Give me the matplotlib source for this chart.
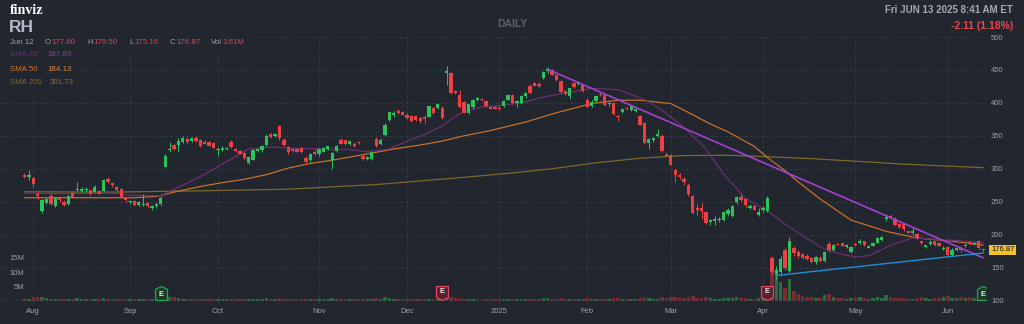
import numpy as np
import pandas as pd
import matplotlib
matplotlib.use("Agg")
import matplotlib.pyplot as plt
import matplotlib.transforms as mtransforms
from matplotlib.path import Path
from matplotlib.patches import Rectangle

plt.rcParams['font.family'] = ['Liberation Sans', 'DejaVu Sans']

# trading calendar
holidays = ['2024-09-02', '2024-11-28', '2024-12-25', '2025-01-01', '2025-01-09',
            '2025-01-20', '2025-02-17', '2025-04-18', '2025-05-26']
dates = pd.bdate_range('2024-07-30', '2025-06-12', freq='C', holidays=holidays)

opens = [291, 288, 286, 262, 236, 248, 259, 243, 256, 250,
         247, 263, 268, 266, 268, 267, 265, 266, 266, 285,
         278, 272, 270, 255, 249, 251, 245, 245, 248, 240,
         244, 246, 303, 329, 336, 336, 341, 345, 342, 347,
         343, 341, 340, 339, 328, 329, 330, 341, 330, 327,
         324, 309, 314, 327, 328, 336, 352, 350, 365, 344,
         333, 330, 330, 331, 317, 313, 326, 322, 326, 330,
         313, 327, 343, 343, 337, 338, 341, 319, 315, 315,
         345, 337, 351, 374, 381, 388, 386, 382, 380, 380,
         377, 378, 379, 392, 392, 392, 446, 445, 418, 412,
         401, 385, 393, 405, 406, 403, 393, 393, 392, 395,
         405, 412, 400, 400, 410, 426, 430, 428, 438, 448,
         450, 442, 433, 418, 411, 430, 428, 427, 405, 396,
         403, 413, 412, 398, 400, 380, 386, 392, 389, 388,
         380, 370, 339, 343, 349, 350, 322, 321, 298, 291,
         285, 276, 259, 240, 240, 235, 219, 221, 222, 222,
         231, 229, 249, 257, 254, 241, 243, 230, 237, 236,
         165, 140, 143, 176, 145, 180, 174, 170, 168, 165,
         158, 165, 160, 186, 177, 186, 187, 181, 174, 186,
         187, 190, 180, 183, 188, 192, 223, 229, 224, 216,
         216, 205, 202, 201, 190, 181, 186, 190, 188, 178,
         181, 169, 177, 180, 182, 189, 186, 190, 177.60]
highs = [293, 298, 287, 265, 254, 256, 263, 257, 258, 252,
         260, 266, 280, 273, 272, 269, 275, 268, 285, 287,
         279, 274, 271, 256, 253, 252, 251, 262, 249, 245,
         248, 258, 322, 341, 337, 346, 349, 348, 348, 349,
         345, 343, 342, 340, 333, 334, 333, 343, 332, 329,
         325, 319, 330, 331, 336, 352, 354, 354, 367, 346,
         335, 332, 332, 333, 319, 324, 328, 332, 333, 335,
         325, 336, 347, 344, 344, 340, 342, 321, 320, 327,
         348, 346, 369, 388, 387, 390, 388, 385, 382, 382,
         379, 381, 396, 394, 400, 395, 456, 447, 420, 420,
         403, 400, 406, 409, 407, 405, 395, 395, 395, 405,
         413, 414, 404, 412, 417, 428, 432, 432, 448, 455,
         452, 444, 434, 419, 423, 432, 433, 429, 407, 404,
         411, 415, 414, 401, 401, 381, 392, 393, 397, 392,
         382, 371, 346, 348, 360, 352, 324, 323, 300, 293,
         287, 278, 260, 247, 248, 236, 224, 229, 226, 236,
         240, 245, 258, 261, 255, 246, 245, 240, 244, 258,
         168, 152, 168, 180, 197, 182, 176, 172, 170, 166,
         168, 167, 175, 190, 186, 188, 188, 186, 183, 188,
         194, 191, 184, 189, 196, 198, 231, 232, 226, 218,
         218, 206, 211, 202, 191, 185, 192, 191, 189, 182,
         183, 179, 180, 182, 186, 191, 189, 192, 179.50]
lows = [286, 283, 272, 254, 233, 246, 245, 242, 250, 243,
        245, 255, 266, 264, 265, 260, 264, 261, 264, 278,
        272, 266, 255, 249, 246, 244, 243, 244, 241, 237,
        241, 244, 302, 326, 328, 326, 339, 337, 340, 341,
        333, 337, 334, 331, 320, 327, 328, 332, 325, 322,
        313, 307, 313, 325, 326, 335, 347, 348, 344, 334,
        323, 326, 325, 324, 309, 311, 321, 320, 325, 328,
        300, 325, 337, 336, 336, 333, 338, 313, 314, 314,
        333, 336, 349, 372, 379, 383, 381, 375, 371, 372,
        370, 370, 378, 383, 390, 376, 427, 413, 413, 392,
        384, 383, 391, 403, 403, 394, 390, 390, 389, 394,
        404, 399, 393, 398, 408, 414, 425, 423, 436, 446,
        442, 433, 414, 412, 406, 423, 427, 417, 393, 394,
        402, 411, 396, 396, 382, 372, 385, 389, 388, 386,
        366, 338, 330, 341, 348, 326, 319, 305, 280, 285,
        276, 259, 232, 230, 224, 216, 214, 215, 219, 220,
        229, 227, 247, 251, 242, 239, 237, 228, 234, 234,
        140, 132, 137, 146, 143, 168, 165, 163, 162, 157,
        156, 158, 158, 174, 175, 184, 182, 180, 172, 183,
        186, 183, 179, 182, 187, 190, 221, 224, 213, 210,
        206, 202, 200, 194, 186, 179, 185, 183, 182, 176,
        167, 167, 175, 174, 181, 185, 184, 178, 173.16]
closes = [288, 291, 277, 258, 252, 254, 247, 255, 252, 245,
          259, 257, 270, 269, 270, 261, 273, 262, 283, 280,
          275, 268, 257, 252, 251, 245, 249, 247, 243, 243,
          247, 256, 320, 330, 330, 342, 347, 341, 346, 342,
          335, 338, 335, 332, 330, 332, 332, 333, 327, 323,
          316, 318, 328, 330, 334, 350, 348, 352, 346, 336,
          325, 327, 326, 325, 311, 322, 323, 330, 331, 334,
          324, 334, 338, 337, 342, 334, 339, 315, 318, 325,
          335, 344, 367, 386, 385, 384, 382, 377, 373, 374,
          372, 376, 395, 384, 398, 377, 449, 415, 415, 394,
          385, 399, 405, 408, 404, 395, 391, 391, 390, 403,
          412, 400, 403, 410, 415, 415, 426, 425, 447, 451,
          443, 434, 417, 413, 422, 424, 432, 418, 394, 402,
          410, 412, 397, 400, 383, 378, 390, 390, 395, 390,
          367, 339, 345, 347, 353, 327, 320, 306, 291, 287,
          280, 261, 233, 238, 236, 218, 222, 223, 224, 234,
          238, 243, 257, 253, 245, 243, 238, 235, 240, 256,
          143, 147, 163, 150, 190, 172, 168, 165, 163, 159,
          166, 160, 174, 176, 184, 185, 183, 184, 181, 184,
          191, 185, 183, 188, 195, 196, 226, 225, 215, 211,
          208, 203, 205, 195, 187, 184, 189, 184, 183, 180,
          169, 177, 179, 177, 185, 186, 187, 179, 176.87]
volumes = [1.1, 0.9, 1.3, 1.5, 1.4, 1.0, 0.9, 0.8, 0.7, 0.8,
           0.9, 0.7, 1.0, 0.8, 0.6, 0.7, 0.8, 0.6, 1.0, 0.9,
           0.7, 0.8, 0.9, 0.8, 0.7, 0.8, 0.6, 0.9, 0.8, 0.7,
           0.8, 1.1, 2.1, 1.5, 1.4, 1.0, 0.9, 0.8, 0.7, 0.8,
           0.7, 0.6, 0.7, 0.8, 0.7, 0.6, 0.7, 0.8, 0.6, 0.7,
           0.9, 0.8, 0.9, 0.6, 0.7, 1.0, 0.7, 0.6, 1.1, 0.8,
           0.8, 0.6, 0.7, 0.7, 0.9, 0.8, 0.7, 0.8, 0.7, 0.8,
           1.2, 0.9, 0.8, 0.7, 0.6, 0.7, 0.6, 0.9, 0.7, 0.8,
           1.0, 0.8, 1.3, 1.2, 0.8, 0.7, 0.6, 0.8, 0.7, 0.7,
           0.6, 0.7, 0.9, 0.7, 0.8, 1.1, 2.6, 1.5, 1.0, 1.1,
           0.9, 0.8, 0.7, 0.5, 0.5, 0.6, 0.6, 0.6, 0.7, 0.8,
           0.9, 0.8, 0.7, 0.8, 0.9, 0.8, 0.7, 0.6, 1.0, 1.1,
           0.9, 0.8, 1.0, 0.8, 0.9, 0.7, 0.8, 0.9, 1.1, 0.9,
           0.8, 0.7, 0.9, 0.7, 1.0, 1.1, 0.8, 0.7, 0.8, 0.8,
           1.2, 1.6, 1.1, 0.9, 0.8, 1.3, 1.2, 1.4, 1.5, 1.1,
           1.2, 1.4, 1.7, 1.2, 1.1, 1.3, 1.0, 0.9, 0.8, 1.0,
           1.1, 1.2, 1.5, 1.1, 1.2, 0.9, 0.8, 1.0, 1.2, 2.8,
           12.0, 10.0, 6.5, 4.4, 7.5, 3.5, 2.4, 1.7, 1.4, 1.5,
           1.2, 1.1, 2.0, 2.4, 1.3, 1.0, 1.2, 0.9, 1.0, 1.1,
           1.3, 1.0, 0.9, 1.1, 1.4, 1.0, 2.2, 1.4, 1.2, 1.0,
           1.1, 0.9, 0.8, 1.1, 1.3, 1.0, 0.9, 1.0, 1.2, 1.6,
           1.8, 1.2, 1.0, 1.5, 1.1, 1.3, 1.0, 1.8, 3.61]

# moving averages, sampled by trading day
sma20_days = [0, 10, 20, 24, 31, 36, 40, 45, 51, 56, 62, 68, 74, 78, 83, 87, 91, 95,
              99, 104, 108, 113, 118, 124, 129, 135, 137, 141, 145, 150, 155, 159,
              164, 169, 173, 178, 182, 186, 189, 192, 194, 197, 202, 207, 212, 218]
sma20_vals = [263, 262, 263, 260, 259, 275, 288, 307, 330, 333, 331, 330, 329, 326,
              330, 342, 352, 365, 384, 394, 396, 400, 409, 416, 422, 420, 415, 405,
              389, 363, 330, 292, 255, 236, 216, 194, 178, 170, 166, 168, 174, 184,
              195, 193, 191, 187.89]
sma50_days = [0, 10, 20, 25, 30, 35, 40, 45, 50, 55, 60, 65, 70, 75, 80, 84, 90, 95,
              100, 106, 114, 121, 129, 135, 140, 147, 152, 156, 160, 166, 169, 173,
              176, 181, 188, 196, 203, 211, 218]
sma50_vals = [256, 256, 256, 256, 258, 266, 273, 279, 284, 291, 301, 308, 313, 319,
              325, 330, 336, 342, 350, 358, 371, 385, 399, 404, 404, 399, 382, 368,
              356, 334, 317, 297, 280, 254, 222, 205, 195, 190, 184.13]
sma200_days = [0, 20, 40, 60, 80, 100, 110, 120, 130, 140, 150, 160, 170, 180, 190,
               200, 210, 218]
sma200_vals = [265, 264.5, 266.5, 269, 276, 287, 293, 300, 309, 316, 320, 320.5, 318,
               315, 311, 307, 304, 301.73]

# trendlines
down_days, down_vals = [119, 218], [451, 165]
up_days, up_vals = [171, 218], [138, 172]

earnings = ['2024-09-12', '2024-12-12', '2025-04-02', '2025-06-12']
earnings_beat = [True, False, False, True]

bg = '#22262f'
up_c, dn_c = '#2cc35c', '#ee3f45'
up_v, dn_v = '#2b6e3e', '#7c2a32'
txt_c = '#9aa0ab'

o = np.array(opens); h = np.array(highs); l = np.array(lows); c = np.array(closes)
x = np.arange(len(dates))
rising = c >= o

fig = plt.figure(figsize=(10.24, 3.24), dpi=100, facecolor=bg)
rect = [0, 21 / 324, 986 / 1024, 266 / 324]
axv = fig.add_axes(rect, facecolor=bg)
ax = fig.add_axes(rect, sharex=axv)
ax.patch.set_visible(False)
ax.set_zorder(2)

# volume
axv.bar(x, volumes, width=0.8, color=np.where(rising, up_v, dn_v), linewidth=0)
axv.set_ylim(-0.62, 91.1)
axv.set_yticks([5, 10, 15])
axv.set_yticklabels(['5M', '10M', '15M'])
axv.tick_params(axis='y', length=0, pad=-17.5, labelsize=5.5, labelcolor=txt_c)
axv.tick_params(axis='x', length=0, labelbottom=False)
for s in axv.spines.values():
    s.set_visible(False)

# candles
col = np.where(rising, up_c, dn_c)
ax.vlines(x, l, h, colors=col, linewidth=0.7, zorder=3)
ax.bar(x, np.maximum(np.abs(c - o), 0.8), bottom=np.minimum(o, c), width=0.75,
       color=col, linewidth=0, zorder=4)

ax.plot(sma200_days, sma200_vals, color='#7b692c', lw=0.9, zorder=2)
ax.plot(sma50_days, sma50_vals, color='#c8702a', lw=0.9, zorder=2)
ax.plot(sma20_days, sma20_vals, color='#6a2f70', lw=0.9, zorder=2)
ax.plot(down_days, down_vals, color='#a53fd2', lw=1.2, zorder=5)
ax.plot(up_days, up_vals, color='#1f8ed0', lw=1.0, zorder=5)

ax.set_xlim(-5.57, 218.7)
ax.set_ylim(96.2, 500)
ax.set_yticks(np.arange(100, 501, 50))
ax.yaxis.tick_right()
ax.tick_params(axis='y', length=0, pad=3.6, labelsize=5.5, labelcolor=txt_c)

# month ticks at first trading day
mpos = [i for i in range(1, len(dates)) if dates[i].month != dates[i - 1].month]
mlab = ['2025' if dates[i].month == 1 else dates[i].strftime('%b') for i in mpos]
ax.set_xticks(mpos)
ax.set_xticklabels(mlab)
ax.tick_params(axis='x', length=0, pad=3.6, labelsize=5.5, labelcolor=txt_c)
ax.grid(True, color='#3a3f4b', linestyle=(0, (3, 3)), linewidth=0.6)
for s in ax.spines.values():
    s.set_visible(False)

# earnings badges
trans = mtransforms.blended_transform_factory(ax.transData, ax.transAxes)
badge_up = Path([(-0.43, -0.5), (0.43, -0.5), (0.43, 0.3), (0, 0.5), (-0.43, 0.3), (-0.43, -0.5)],
                [Path.MOVETO] + [Path.LINETO] * 4 + [Path.CLOSEPOLY])
badge_dn = Path([(-0.43, 0.5), (0.43, 0.5), (0.43, -0.3), (0, -0.5), (-0.43, -0.3), (-0.43, 0.5)],
                [Path.MOVETO] + [Path.LINETO] * 4 + [Path.CLOSEPOLY])
for d, beat in zip(earnings, earnings_beat):
    i = dates.get_loc(pd.Timestamp(d))
    ax.plot([i], [0.0376], transform=trans, marker=badge_up if beat else badge_dn,
            markersize=10, mfc='#1b3b28' if beat else '#5a2030',
            mec='#21a552' if beat else '#e2485a', mew=0.9, zorder=8)
    ax.text(i, 0.0376 - (0.004 if beat else -0.004), 'E', transform=trans, ha='center',
            va='center', fontsize=5.5, fontweight='bold', color='#e8e8e8', zorder=9)

# last price tag
ptrans = mtransforms.blended_transform_factory(ax.transAxes, ax.transData)
ax.text(1 + 5 / 986, closes[-1], f'{closes[-1]:.2f}', transform=ptrans, ha='left',
        va='center', fontsize=5.5, color='#111111', clip_on=False, zorder=10,
        bbox=dict(boxstyle='square,pad=0.22', fc='#f2c22e', ec='none'))

# header
def ftxt(px, py, s, **kw):
    return fig.text(px / 1024, 1 - py / 324, s, va='center', **kw)

fig.add_artist(Rectangle((0, 1 - 49 / 324), 255 / 1024, 19 / 324, transform=fig.transFigure,
                         fc=bg, ec='none', zorder=5))
fig.add_artist(Rectangle((0, 1 - 89 / 324), 77 / 1024, 40 / 324, transform=fig.transFigure,
                         fc=bg, ec='none', zorder=5))

ftxt(10, 10, 'finviz', fontsize=10, fontweight='bold', color='white',
     family=['Liberation Serif', 'DejaVu Serif'], zorder=6)
ftxt(9, 27, 'RH', fontsize=12.5, fontweight='bold', color='#b3bbca', zorder=6)
ftxt(512, 24, 'DAILY', fontsize=7.5, fontweight='bold', color='#5b616d', ha='center', zorder=6)
ftxt(1013, 10, 'Fri JUN 13 2025 8:41 AM ET', fontsize=7, fontweight='bold',
     color='#a3a9b4', ha='right', zorder=6)
ftxt(1013, 26, '-2.11 (1.18%)', fontsize=7.5, fontweight='bold', color='#f0434c',
     ha='right', zorder=6)

red_v = '#e4404a'
ftxt(10, 43, 'Jun 12', fontsize=5.7, color=txt_c, zorder=6)
for lx, lab, vx, val in [(45, 'O', 51.5, '177.60'), (87, 'H', 93.5, '179.50'),
                         (129, 'L', 134.5, '173.16'), (170, 'C', 176, '176.87'),
                         (211, 'Vol', 222.5, '3.61M')]:
    ftxt(lx, 43, lab, fontsize=5.7, color=txt_c, zorder=6)
    ftxt(vx, 43, val, fontsize=5.7, color=red_v, zorder=6)

for py, lab, dot_x, val_x, val, c1, c2 in [
        (55, 'SMA 20', 40, 47, '187.89', '#6b2f72', '#8b3f8e'),
        (69, 'SMA 50', 40, 47, '184.13', '#d2762c', '#d98a3c'),
        (82, 'SMA 200', 44, 50, '301.73', '#7b692e', '#8a7634')]:
    ftxt(10, py, lab, fontsize=5.7, color=c1, zorder=6)
    ftxt(dot_x, py, '·', fontsize=5.7, color='#6a707c', zorder=6)
    ftxt(val_x, py, val, fontsize=5.7, color=c2, zorder=6)

fig.savefig('out.png', dpi=100, facecolor=bg)
